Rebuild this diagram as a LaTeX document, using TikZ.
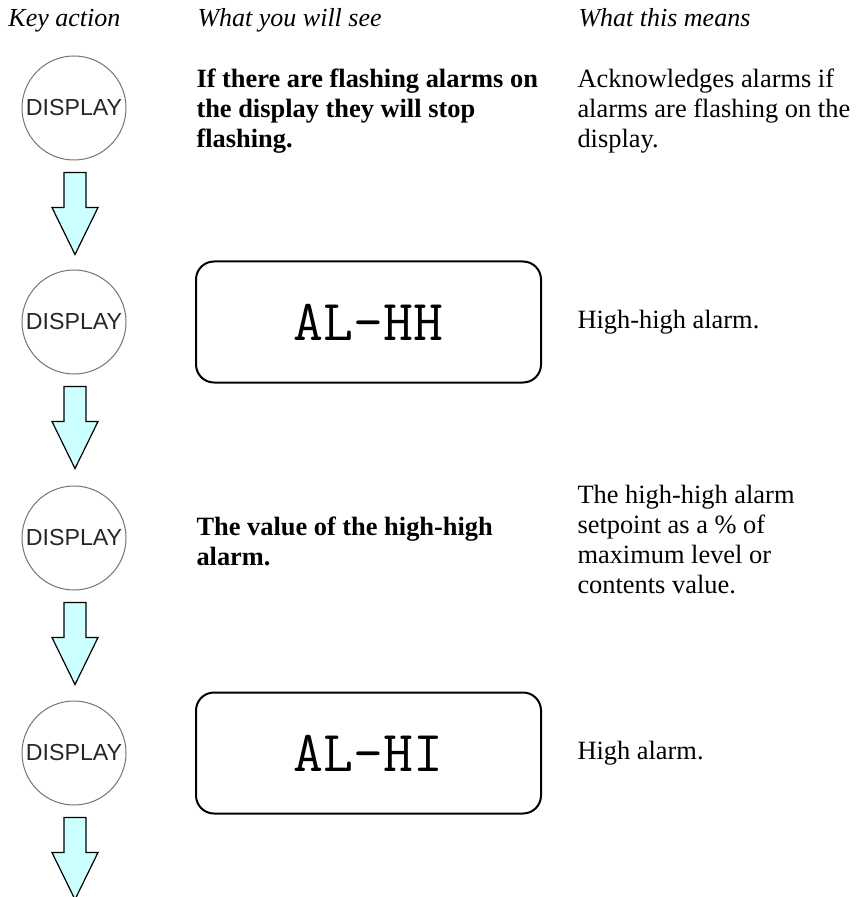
\documentclass[tikz,border=0pt]{standalone}
\usepackage{fontspec}
\setmainfont{Liberation Serif}
\setsansfont{Liberation Sans}
\usetikzlibrary{calc}
\definecolor{arrowfill}{HTML}{CCFFFF}
\tikzset{
	every path/.style={line width=0.5pt},
	head/.style={
		anchor=base west,
		inner sep=0pt,
		font=\fontsize{13}{15}\selectfont\itshape
	},
	keynode/.style={
		draw=black!55,
		circle,
		minimum size=52pt,
		inner sep=0pt,
		text=black!85,
		font=\sffamily\fontsize{11.6}{12}\selectfont
	},
	screen/.style={
		draw,
		line width=1pt,
		rounded corners=9pt,
		minimum width=172.5pt,
		minimum height=60.5pt,
		font=\ttfamily\fontsize{29}{32}\selectfont
	},
	seen/.style={
		anchor=west,
		inner sep=0pt,
		align=left,
		font=\fontsize{13.2}{15}\selectfont\bfseries
	},
	means/.style={
		anchor=west,
		inner sep=0pt,
		align=left,
		font=\fontsize{13.2}{15}\selectfont
	},
	flow/.style={
		draw=black,
		fill=arrowfill,
		line width=0.6pt,
		line join=miter
	},
}
% block arrow hanging from a coordinate (its top centre)
\newcommand{\flowarrow}[1]{%
	\draw[flow] ($(#1)+(-11,0)$) -- ++(22,0) -- ++(0,35) -- ++(12,0)
		-- ++(-23,47) -- ++(-23,-47) -- ++(12,0) -- cycle;}

\begin{document}
\begin{tikzpicture}[x=0.5pt,y=-0.5pt]
	\useasboundingbox (0,0) rectangle (855,897);

	% column heads
	\node[head] (hkey)   at (8,27)   {Key action};
	\node[head] (hsee)   at (197,27) {What you will see};
	\node[head] (hmeans) at (578,27) {What this means};

	% key presses
	\node[keynode] (k1) at (74,108) {DISPLAY};
	\node[keynode] (k2) at (74,322) {DISPLAY};
	\node[keynode] (k3) at (74,538) {DISPLAY};
	\node[keynode] (k4) at (74,753) {DISPLAY};

	\coordinate (a1) at ($(k1.south)+(1,12)$);
	\coordinate (a2) at ($(k2.south)+(1,12)$);
	\coordinate (a3) at ($(k3.south)+(1,12)$);
	\coordinate (a4) at ($(k4.south)+(1,12)$);
	\flowarrow{a1}
	\flowarrow{a2}
	\flowarrow{a3}
	\flowarrow{a4}

	% what you will see
	\node[seen]   (see1) at (196,111) {If there are flashing alarms on\\the display they will stop\\flashing.};
	\node[screen] (see2) at (368.5,322) {AL-HH};
	\node[seen]   (see3) at (196,541) {The value of the high-high\\alarm.};
	\node[screen] (see4) at (368.5,753) {AL-HI};

	% what this means
	\node[means] (mean1) at (577,111) {Acknowledges alarms if\\alarms are flashing on the\\display.};
	\node[means] (mean2) at (577,322) {High-high alarm.};
	\node[means] (mean3) at (577,540) {The high-high alarm\\setpoint as a \% of\\maximum level or\\contents value.};
	\node[means] (mean4) at (577,753) {High alarm.};
\end{tikzpicture}
\end{document}
